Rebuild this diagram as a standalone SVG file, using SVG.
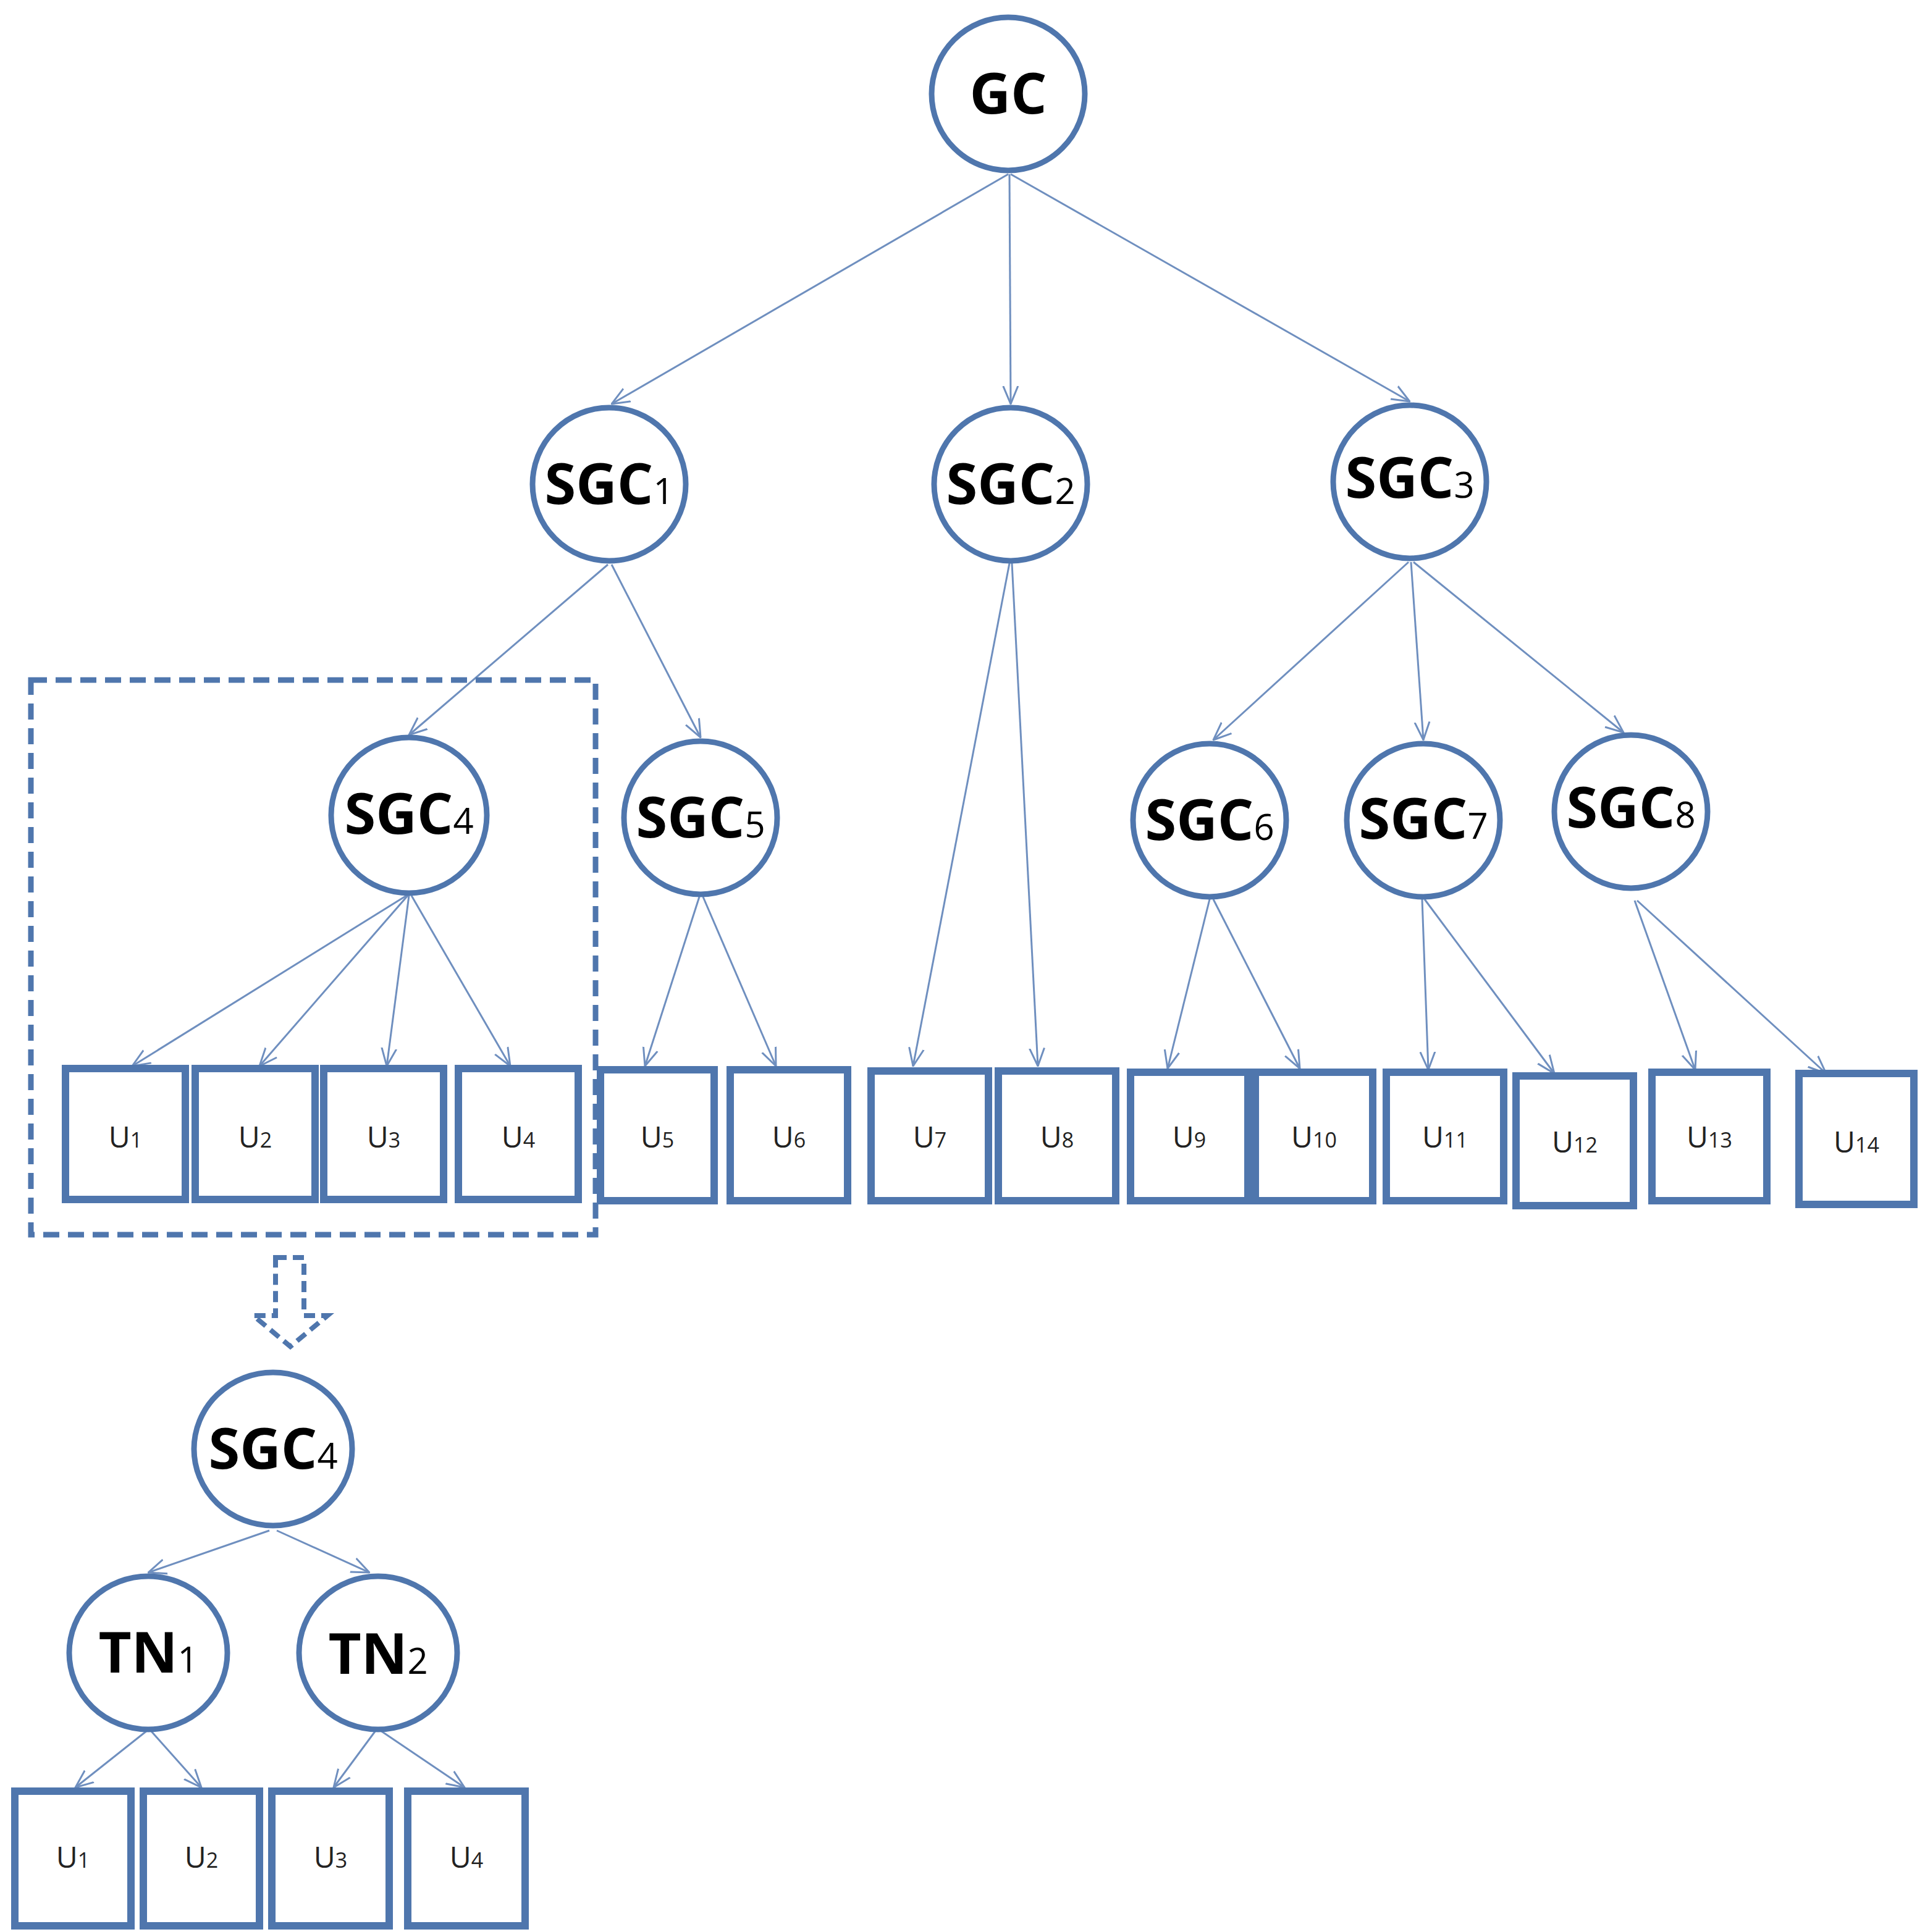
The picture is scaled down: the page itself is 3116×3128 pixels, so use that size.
<svg xmlns="http://www.w3.org/2000/svg" width="3116" height="3128" viewBox="0 0 3116 3128">
<style>
.c{fill:#fff;stroke:#4f76ad;stroke-width:9}
.b{fill:#fff;stroke:#4f76ad;stroke-width:12}
.e{stroke:#6f8fbf;stroke-width:3;fill:none;marker-end:url(#a)}
.t{font-family:"Open Sans","Liberation Sans",sans-serif;font-weight:bold;font-size:92px;fill:#000;text-anchor:middle}
.t tspan{font-size:58px;font-weight:normal}
.u{font-family:"Open Sans","Liberation Sans",sans-serif;font-size:48px;fill:#222;text-anchor:middle}
.u tspan{font-size:34px}
</style>
<defs><marker id="a" viewBox="0 0 30 30" refX="29" refY="15" markerWidth="30" markerHeight="30" markerUnits="userSpaceOnUse" orient="auto"><path d="M0,3 L29,15 L0,27" fill="none" stroke="#6f8fbf" stroke-width="3"/></marker></defs>
<rect width="3116" height="3128" fill="#fff"/>
<g id="connectors">
<line class="e" x1="1632" y1="282" x2="990" y2="654"/>
<line class="e" x1="1634" y1="282" x2="1636" y2="654"/>
<line class="e" x1="1636" y1="282" x2="2282" y2="650"/>
<line class="e" x1="984" y1="914" x2="662" y2="1190"/>
<line class="e" x1="990" y1="914" x2="1134" y2="1194"/>
<line class="e" x1="1634" y1="912" x2="1478" y2="1726"/>
<line class="e" x1="1638" y1="912" x2="1680" y2="1726"/>
<line class="e" x1="2280" y1="910" x2="1964" y2="1198"/>
<line class="e" x1="2284" y1="910" x2="2304" y2="1198"/>
<line class="e" x1="2288" y1="910" x2="2628" y2="1186"/>
<line class="e" x1="658" y1="1450" x2="214" y2="1726"/>
<line class="e" x1="660" y1="1450" x2="420" y2="1726"/>
<line class="e" x1="662" y1="1450" x2="626" y2="1726"/>
<line class="e" x1="666" y1="1450" x2="826" y2="1726"/>
<line class="e" x1="1132" y1="1452" x2="1044" y2="1726"/>
<line class="e" x1="1138" y1="1452" x2="1256" y2="1726"/>
<line class="e" x1="1958" y1="1456" x2="1890" y2="1730"/>
<line class="e" x1="1964" y1="1456" x2="2104" y2="1730"/>
<line class="e" x1="2302" y1="1456" x2="2312" y2="1732"/>
<line class="e" x1="2306" y1="1456" x2="2516" y2="1738"/>
<line class="e" x1="2646" y1="1458" x2="2744" y2="1732"/>
<line class="e" x1="2650" y1="1458" x2="2956" y2="1738"/>
<line class="e" x1="436" y1="2478" x2="240" y2="2546"/>
<line class="e" x1="448" y1="2478" x2="598" y2="2546"/>
<line class="e" x1="238" y1="2802" x2="122" y2="2894"/>
<line class="e" x1="244" y1="2802" x2="326" y2="2894"/>
<line class="e" x1="608" y1="2802" x2="540" y2="2894"/>
<line class="e" x1="616" y1="2802" x2="752" y2="2894"/>
</g>
<g id="group-box"><rect x="50" y="1101" width="914" height="898" fill="none" stroke="#4f76ad" stroke-width="9" stroke-dasharray="26,14"/></g>
<g id="expand-arrow"><path d="M446,2036 L492,2036 L492,2130 L530,2130 L470,2180 L410,2130 L446,2130 Z" fill="none" stroke="#4f76ad" stroke-width="8" stroke-dasharray="18,10"/></g>
<g id="GC"><circle class="c" cx="1632" cy="152" r="124"/><text class="t" x="1632" y="184">GC</text></g>
<g id="SGC1"><circle class="c" cx="986" cy="784" r="124"/><text class="t" x="986" y="816">SGC<tspan>1</tspan></text></g>
<g id="SGC2"><circle class="c" cx="1636" cy="784" r="124"/><text class="t" x="1636" y="816">SGC<tspan>2</tspan></text></g>
<g id="SGC3"><circle class="c" cx="2282" cy="780" r="124"/><text class="t" x="2282" y="806">SGC<tspan>3</tspan></text></g>
<g id="SGC4"><circle class="c" cx="662" cy="1320" r="126"/><text class="t" x="662" y="1350">SGC<tspan>4</tspan></text></g>
<g id="SGC5"><circle class="c" cx="1134" cy="1324" r="124"/><text class="t" x="1134" y="1356">SGC<tspan>5</tspan></text></g>
<g id="SGC6"><circle class="c" cx="1958" cy="1328" r="124"/><text class="t" x="1958" y="1360">SGC<tspan>6</tspan></text></g>
<g id="SGC7"><circle class="c" cx="2304" cy="1328" r="124"/><text class="t" x="2304" y="1358">SGC<tspan>7</tspan></text></g>
<g id="SGC8"><circle class="c" cx="2640" cy="1314" r="124"/><text class="t" x="2640" y="1340">SGC<tspan>8</tspan></text></g>
<g id="U1"><rect class="b" x="106" y="1730" width="194" height="212"/><text class="u" x="203" y="1858">U<tspan>1</tspan></text></g>
<g id="U2"><rect class="b" x="316" y="1730" width="194" height="212"/><text class="u" x="413" y="1858">U<tspan>2</tspan></text></g>
<g id="U3"><rect class="b" x="524" y="1730" width="194" height="212"/><text class="u" x="621" y="1858">U<tspan>3</tspan></text></g>
<g id="U4"><rect class="b" x="742" y="1730" width="194" height="212"/><text class="u" x="839" y="1858">U<tspan>4</tspan></text></g>
<g id="U5"><rect class="b" x="972" y="1732" width="184" height="212"/><text class="u" x="1064" y="1858">U<tspan>5</tspan></text></g>
<g id="U6"><rect class="b" x="1182" y="1732" width="190" height="212"/><text class="u" x="1277" y="1858">U<tspan>6</tspan></text></g>
<g id="U7"><rect class="b" x="1410" y="1734" width="190" height="210"/><text class="u" x="1505" y="1858">U<tspan>7</tspan></text></g>
<g id="U8"><rect class="b" x="1616" y="1734" width="190" height="210"/><text class="u" x="1711" y="1858">U<tspan>8</tspan></text></g>
<g id="U9"><rect class="b" x="1830" y="1736" width="190" height="208"/><text class="u" x="1925" y="1858">U<tspan>9</tspan></text></g>
<g id="U10"><rect class="b" x="2032" y="1736" width="190" height="208"/><text class="u" x="2127" y="1858">U<tspan>10</tspan></text></g>
<g id="U11"><rect class="b" x="2244" y="1736" width="190" height="208"/><text class="u" x="2339" y="1858">U<tspan>11</tspan></text></g>
<g id="U12"><rect class="b" x="2454" y="1742" width="190" height="210"/><text class="u" x="2549" y="1866">U<tspan>12</tspan></text></g>
<g id="U13"><rect class="b" x="2674" y="1736" width="186" height="208"/><text class="u" x="2767" y="1858">U<tspan>13</tspan></text></g>
<g id="U14"><rect class="b" x="2912" y="1738" width="186" height="212"/><text class="u" x="3005" y="1866">U<tspan>14</tspan></text></g>
<g id="SGC4-detail"><ellipse class="c" cx="442" cy="2346" rx="128" ry="124"/><text class="t" x="442" y="2378">SGC<tspan>4</tspan></text></g>
<g id="TN1"><ellipse class="c" cx="240" cy="2676" rx="128" ry="124"/><text class="t" x="240" y="2708">TN<tspan>1</tspan></text></g>
<g id="TN2"><ellipse class="c" cx="612" cy="2676" rx="128" ry="124"/><text class="t" x="612" y="2710">TN<tspan>2</tspan></text></g>
<g id="U1-detail"><rect class="b" x="24" y="2900" width="188" height="218"/><text class="u" x="118" y="3024">U<tspan>1</tspan></text></g>
<g id="U2-detail"><rect class="b" x="232" y="2900" width="188" height="218"/><text class="u" x="326" y="3024">U<tspan>2</tspan></text></g>
<g id="U3-detail"><rect class="b" x="440" y="2900" width="190" height="218"/><text class="u" x="535" y="3024">U<tspan>3</tspan></text></g>
<g id="U4-detail"><rect class="b" x="660" y="2900" width="190" height="218"/><text class="u" x="755" y="3024">U<tspan>4</tspan></text></g>
</svg>
